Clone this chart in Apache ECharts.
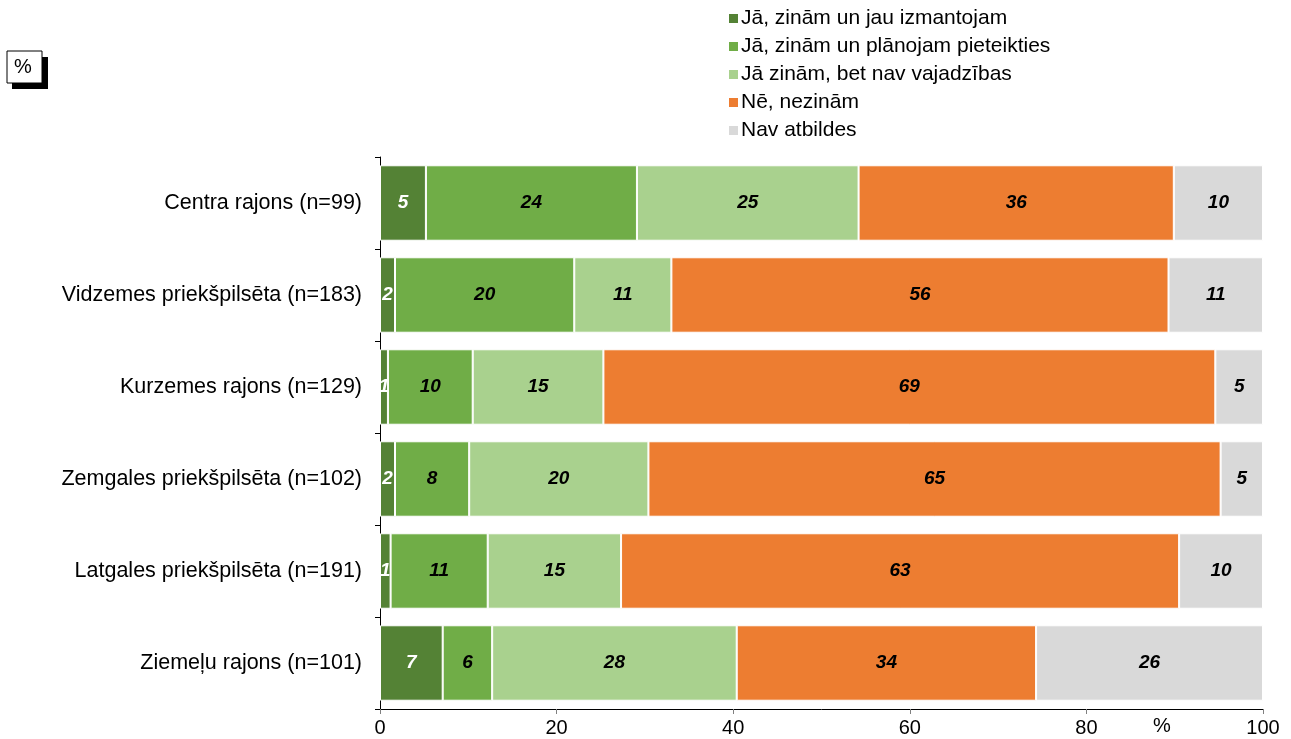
<!DOCTYPE html>
<html>
<head>
<meta charset="utf-8">
<script src="https://cdn.jsdelivr.net/npm/echarts@6/dist/echarts.min.js"></script>
<style>html,body{margin:0;padding:0;background:#fff;}#c{width:1291px;height:739px;}</style>
</head>
<body>
<div id="c"></div>
<script>
var categories = ['Centra rajons (n=99)', 'Vidzemes priekšpilsēta (n=183)', 'Kurzemes rajons (n=129)', 'Zemgales priekšpilsēta (n=102)', 'Latgales priekšpilsēta (n=191)', 'Ziemeļu rajons (n=101)'];
var seriesNames = ['Jā, zinām un jau izmantojam', 'Jā, zinām un plānojam pieteikties', 'Jā zinām, bet nav vajadzības', 'Nē, nezinām', 'Nav atbildes'];
var useNow = [5.2, 1.7, 0.9, 1.7, 1.2, 7.1];
var planApply = [23.9, 20.3, 9.6, 8.4, 11.0, 5.6];
var noNeed = [25.1, 11.0, 14.8, 20.3, 15.1, 27.7];
var dontKnow = [35.7, 56.3, 69.3, 64.8, 63.2, 33.9];
var noAnswer = [10.1, 10.7, 5.4, 4.8, 9.5, 25.7];
var xTicks = [0, 20, 40, 60, 80, 100];
var colors = ['#548235', '#70AD47', '#A9D18E', '#ED7D31', '#D9D9D9'];

var values = [useNow, planApply, noNeed, dontKnow, noAnswer];
var font = '"Liberation Sans", Arial, sans-serif';
var chart = echarts.init(document.getElementById('c'));
var series = values.map(function (arr, i) {
  return {
    name: seriesNames[i],
    type: 'bar',
    stack: 'total',
    data: arr,
    barCategoryGap: '18%',
    itemStyle: { color: colors[i], borderColor: '#ffffff', borderWidth: 1 },
    label: {
      show: true,
      position: 'inside',
      fontFamily: font,
      fontSize: 19,
      fontWeight: 'bold',
      fontStyle: 'italic',
      color: i === 0 ? '#ffffff' : '#000000',
      formatter: function (p) { return Math.round(p.value); }
    },
    emphasis: { disabled: true }
  };
});
chart.setOption({
  animation: false,
  color: colors,
  textStyle: { fontFamily: font },
  legend: {
    orient: 'vertical',
    left: 722,
    top: 3,
    itemWidth: 11,
    itemHeight: 11,
    itemGap: 7,
    icon: 'rect',
    data: seriesNames,
    textStyle: { fontFamily: font, fontSize: 21, color: '#000', padding: [0, 0, 0, -3] }
  },
  grid: { left: 380, right: 28, top: 157, bottom: 30, containLabel: false },
  xAxis: {
    type: 'value',
    min: 0,
    max: 100,
    interval: 20,
    axisLine: { show: true, lineStyle: { color: '#000', width: 1 } },
    axisTick: { show: true, length: 5, lineStyle: { color: '#808080' } },
    splitLine: { show: false },
    axisLabel: {
      fontFamily: font, fontSize: 20, color: '#000', margin: 9,
      formatter: function (v) { return xTicks.indexOf(v) >= 0 ? String(v) : ''; }
    }
  },
  yAxis: {
    type: 'category',
    data: categories,
    inverse: true,
    axisLine: { show: true, lineStyle: { color: '#000', width: 1 } },
    axisTick: { show: true, length: 5, lineStyle: { color: '#000' } },
    axisLabel: { fontFamily: font, fontSize: 21.5, color: '#000', margin: 18 }
  },
  graphic: [
    { type: 'rect', shape: { x: 12, y: 57, width: 36, height: 32 }, style: { fill: '#000' } },
    { type: 'rect', shape: { x: 7, y: 51, width: 35, height: 32 }, style: { fill: '#fff', stroke: '#000', lineWidth: 1 } },
    { type: 'text', left: 14, top: 57, style: { text: '%', fontFamily: font, fontSize: 20, fill: '#000' } },
    { type: 'text', left: 1153, top: 716, style: { text: '%', fontFamily: font, fontSize: 20, fill: '#000' } }
  ],
  series: series
});
</script>
</body>
</html>
